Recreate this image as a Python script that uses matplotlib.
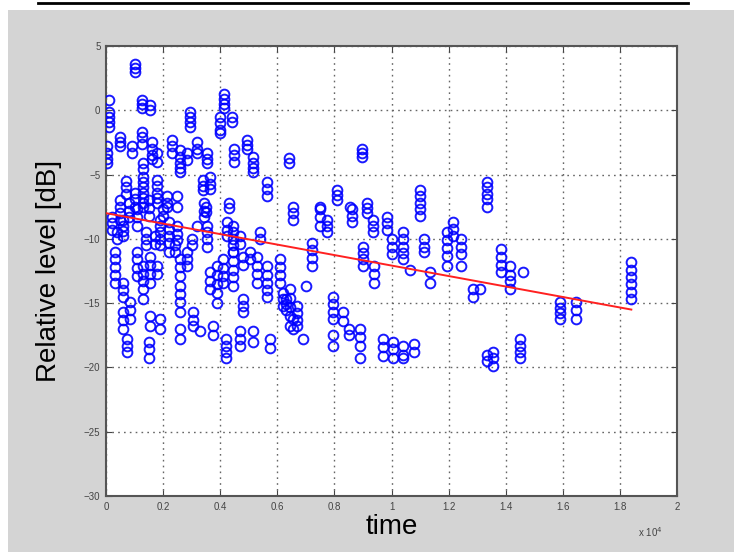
import numpy as np
import matplotlib
matplotlib.use('Agg')
from matplotlib import pyplot as plt
from matplotlib.patches import Rectangle
from matplotlib.lines import Line2D

# time positions of each measurement group (x 10^4)
group_t = [0.10, 0.01, 0.125, 0.155, 0.295, 0.415, 0.40, 0.44, 0.005, 0.05,
           0.09, 0.125, 0.16, 0.18, 0.13, 0.23, 0.26, 0.285, 0.32, 0.355,
           0.34, 0.365, 0.45, 0.495, 0.515, 0.565, 0.64, 0.43, 0.35, 0.13,
           0.18, 0.10, 0.215, 0.25, 0.05, 0.08, 0.15, 0.20, 0.06, 0.11,
           0.19, 0.22, 0.25, 0.32, 0.355, 0.345, 0.445, 0.425, 0.03, 0.06,
           0.11, 0.13, 0.155, 0.18, 0.26, 0.285, 0.26, 0.365, 0.39, 0.41,
           0.445, 0.48, 0.505, 0.53, 0.565, 0.61, 0.63, 0.655, 0.67, 0.06,
           0.085, 0.075, 0.155, 0.19, 0.15, 0.26, 0.305, 0.33, 0.375, 0.42,
           0.47, 0.48, 0.515, 0.575, 0.62, 0.655, 0.895, 0.81, 0.75, 0.855,
           0.915, 1.10, 1.335, 0.75, 0.775, 0.86, 0.935, 0.985, 0.72, 0.90,
           0.94, 1.04, 1.115, 1.195, 1.215, 1.245, 1.135, 1.065, 1.285, 0.645,
           0.70, 0.795, 0.83, 0.85, 0.795, 0.89, 0.97, 1.005, 1.04, 0.69,
           0.89, 1.335, 1.385, 1.415, 1.46, 1.31, 1.59, 1.645, 1.84, 1.45,
           1.355, 1.0, 1.08, 0.02, 0.04, 0.07, 0.14, 0.17, 0.24, 0.30,
           0.47, 0.54]

# relative levels measured in each group (dB)
group_level = [
    [3.6, 3.3, 3.0], [0.8, -0.1, -0.5, -0.9, -1.3], [0.8, 0.5, 0.2], [0.4, 0.0],
    [-0.1, -0.5, -0.9, -1.3], [1.3, 0.9, 0.5, 0.2], [-0.5, -1.0, -1.5, -1.8],
    [-0.5, -0.9], [-2.8, -3.3, -3.8, -4.1], [-2.1, -2.5, -2.8],
    [-2.8, -3.3], [-1.7, -2.1, -2.6], [-2.5, -3.0, -3.5, -3.8], [-3.3, -4.0],
    [-4.1, -4.6, -5.2], [-2.3, -2.8, -3.3], [-3.1, -3.6, -4.1, -4.5, -4.8],
    [-3.3, -3.9], [-2.5, -3.0, -3.3], [-3.3, -3.8, -4.1],
    [-5.4, -5.9, -6.2], [-5.2, -5.7, -6.1], [-3.0, -3.5, -4.0], [-2.3, -2.7, -3.0],
    [-3.6, -4.1, -4.5, -4.8], [-5.6, -6.1, -6.7], [-3.7, -4.1], [-7.2, -7.6],
    [-7.5, -7.9], [-5.6, -6.0, -6.4, -6.8, -7.2, -7.5],
    [-5.4, -5.9, -6.4, -6.8, -7.2], [-6.4, -6.9, -7.5], [-6.7, -7.2, -7.5],
    [-6.7, -7.5], [-7.0, -7.5, -8.0, -8.5], [-7.2, -7.8, -8.3], [-7.0, -7.6, -8.2],
    [-7.7, -8.2], [-8.5, -9.0, -9.4, -9.8], [-7.7, -8.3, -9.0],
    [-8.5, -9.0, -9.5, -10.0, -10.5], [-8.7, -9.2, -9.8, -10.3, -11.0],
    [-9.0, -9.6, -10.1], [-9.0], [-9.0, -9.5, -10.0, -10.6], [-7.2, -7.8, -8.3],
    [-9.0, -9.5, -10.0, -10.5, -11.0], [-8.7, -9.3, -9.8],
    [-11.0, -11.6, -12.2, -12.8, -13.4], [-13.4, -14.0, -14.5],
    [-11.0, -11.6, -12.3, -12.9], [-12.1, -12.7, -13.3, -13.9, -14.7],
    [-11.4, -12.0, -12.7, -13.4], [-12.1, -12.7], [-11.6, -12.2, -12.9],
    [-11.0, -11.6, -12.1], [-13.7, -14.3, -14.9, -15.7], [-12.6, -13.3, -13.9],
    [-12.1, -12.8, -13.5, -14.2, -15.0], [-11.6, -12.3, -12.9, -13.4],
    [-11.0, -11.7, -12.4, -13.0, -13.7], [-11.4, -12.0], [-11.0, -11.6],
    [-11.4, -12.1, -12.7, -13.4], [-12.1, -12.8, -13.4, -14.0, -14.5],
    [-11.6, -12.2, -12.8, -13.4], [-14.7, -15.1, -15.5], [-7.5, -8.0, -8.5],
    [-15.2, -15.8, -16.3, -16.8], [-15.7, -16.3, -17.0],
    [-14.9, -15.5, -16.2], [-17.8, -18.3, -18.8], [-16.0, -16.8], [-16.2, -17.0],
    [-18.0, -18.6, -19.3], [-17.0, -17.8], [-15.7, -16.3, -16.8], [-17.2],
    [-16.8, -17.5], [-17.8, -18.3, -18.8, -19.3],
    [-17.2, -17.8, -18.3], [-14.7, -15.2, -15.7], [-17.2, -18.0], [-17.8, -18.5],
    [-14.2, -14.7, -15.2], [-16.2, -17.0], [-3.0, -3.3, -3.6], [-6.2, -6.6, -7.0],
    [-7.5], [-7.5],
    [-7.2, -7.6, -8.0], [-6.2, -6.7, -7.2, -7.7, -8.2], [-5.6, -6.0, -6.5, -6.9, -7.5],
    [-7.7, -8.3, -9.0], [-8.5, -9.0, -9.5], [-7.7, -8.2, -8.7], [-8.5, -9.0, -9.5],
    [-8.3, -8.8, -9.3], [-10.3, -10.9, -11.5, -12.1], [-10.6, -11.1, -11.6, -12.1],
    [-12.1, -12.7, -13.4], [-9.5, -10.0, -10.6, -11.1, -11.6], [-10.0, -10.6, -11.0],
    [-9.5, -10.1, -10.7, -11.3, -12.1], [-8.7, -9.2, -9.8], [-10.0, -10.6, -11.2, -12.1],
    [-12.6, -13.4], [-12.4], [-13.9, -14.5], [-13.9, -14.6, -15.3, -16.0, -16.8],
    [-13.7], [-14.5, -15.1, -15.7, -16.2], [-15.7, -16.4], [-17.0, -17.5],
    [-17.5, -18.3], [-17.0, -17.6, -18.3], [-17.8, -18.4, -19.1],
    [-18.0, -18.6, -19.3], [-18.3, -19.0, -19.3], [-17.8],
    [-19.3], [-19.0, -19.5], [-10.8, -11.4, -12.0, -12.6], [-12.1, -12.8, -13.3, -13.9],
    [-12.6], [-13.9], [-14.9, -15.4, -15.8, -16.2], [-14.9, -15.5, -16.2],
    [-11.8, -12.4, -13.0, -13.5, -14.1, -14.7], [-17.8, -18.3, -18.8, -19.3],
    [-18.8, -19.3, -19.9], [-10.0, -10.6, -11.2], [-18.2, -18.8],
    [-8.3, -8.8, -9.3], [-9.5, -10.0], [-5.5, -6.0, -6.5], [-9.5, -10.0, -10.5],
    [-9.8, -10.4], [-10.5, -11.0], [-10.0, -10.5], [-9.8, -10.4], [-9.5, -10.0]]

# fitted trend line end points
fit_t = [0.0, 1.84]
fit_level = [-8.0, -15.5]

x_ticks = [0, 0.2, 0.4, 0.6, 0.8, 1, 1.2, 1.4, 1.6, 1.8, 2]
x_labels = ['0', '0.2', '0.4', '0.6', '0.8', '1', '1.2', '1.4', '1.6', '1.8', '2']
y_ticks = [-30, -25, -20, -15, -10, -5, 0, 5]

plt.rcParams['font.family'] = ['Liberation Sans', 'DejaVu Sans']

fig = plt.figure(figsize=(7.34, 5.52), dpi=100)
fig.patch.set_facecolor('white')
# grey window background and the black rule on top
fig.patches.append(Rectangle((8 / 734, 0), 1, 1 - 10 / 552, transform=fig.transFigure,
                             facecolor='#d4d4d4', edgecolor='none', zorder=-10))
fig.lines.append(Line2D([38 / 734, 688 / 734], [1 - 2.5 / 552, 1 - 2.5 / 552],
                        transform=fig.transFigure, color='black', lw=2))

ax = fig.add_axes([106 / 734, 56 / 552, 571 / 734, 450 / 552])
ax.set_zorder(5)
ax.set_facecolor('white')

xs = []
ys = []
for t, lv in zip(group_t, group_level):
    for v in lv:
        xs.append(t)
        ys.append(v)

ax.plot(xs, ys, 'o', markerfacecolor='none', markeredgecolor='#0000ff',
        markersize=7, markeredgewidth=1.4, alpha=0.9, zorder=3)
ax.plot(fit_t, fit_level, '-', color='#ff2020', lw=1.4, zorder=4)

ax.set_xlim(0, 2)
ax.set_ylim(-30, 5)
ax.set_xticks(x_ticks)
ax.set_xticklabels(x_labels)
ax.set_yticks(y_ticks)
ax.tick_params(direction='in', top=True, right=True, labelsize=7, length=4,
               colors='#444444', pad=4)
ax.grid(True, linestyle=(0, (1.2, 3)), color='#666666', lw=1.0)
for sp in ax.spines.values():
    sp.set_color('#555555')
    sp.set_linewidth(1.5)

ax.set_xlabel('time', fontsize=20, labelpad=2)
ax.set_ylabel('Relative level [dB]', fontsize=20, labelpad=16)
fig.text(650 / 734, 1 - 532 / 552, r'x 10$^4$', fontsize=7, color='#444444',
         ha='center', va='center')

fig.savefig('out.png', dpi=100, facecolor=fig.get_facecolor())
